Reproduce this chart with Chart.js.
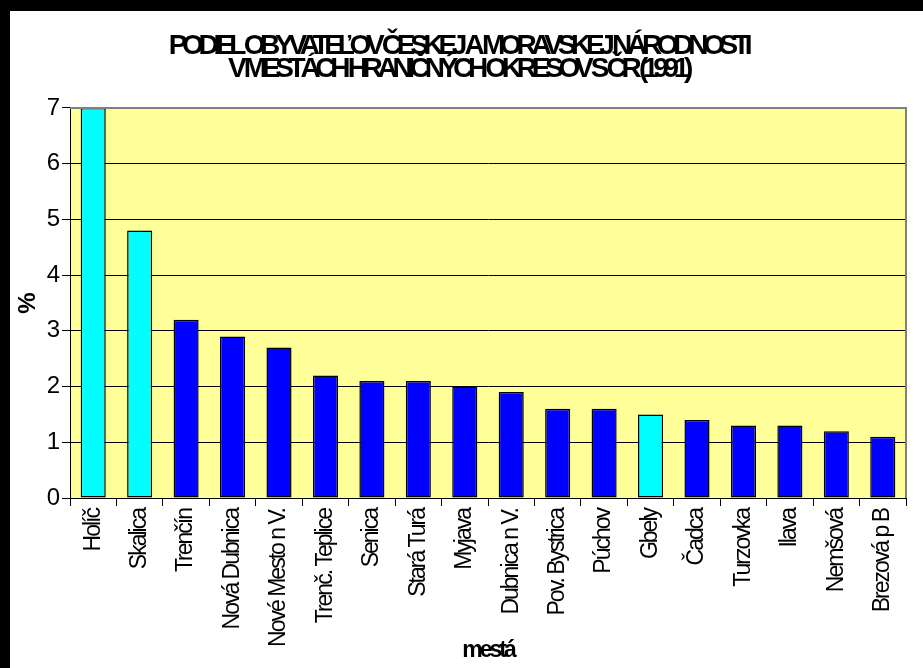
<!DOCTYPE html>
<html><head><meta charset="utf-8">
<script src="https://cdn.jsdelivr.net/npm/chart.js@4/dist/chart.umd.min.js"></script>
<style>
html,body{margin:0;padding:0;background:#000;width:923px;height:668px;overflow:hidden}
#wrap{position:absolute;left:10px;top:11px;width:913px;height:657px;background:#fff}
canvas{display:block}
</style></head><body>
<div id="wrap"><canvas id="c" width="913" height="657"></canvas></div>
<script>
const titleLines = ['PODIEL OBYVATEĽOV ČESKEJ A MORAVSKEJ NÁRODNOSTI', 'V MESTÁCH HRANIČNÝCH OKRESOV S ČR (1991)'];
const cities = ['Holíč','Skalica','Trenčín','Nová Dubnica','Nové Mesto n V.','Trenč. Teplice','Senica','Stará Turá','Myjava','Dubnica n V.','Pov. Bystrica','Púchov','Gbely','Čadca','Turzovka','Ilava','Nemšová','Brezová p B'];
const shares = [7.0, 4.8, 3.2, 2.9, 2.7, 2.2, 2.1, 2.1, 2.0, 1.9, 1.6, 1.6, 1.5, 1.4, 1.3, 1.3, 1.2, 1.1];
const czBorderTowns = ['Holíč','Skalica','Gbely'];
const yTicks = [0,1,2,3,4,5,6,7];
const xTitle = 'mestá';
const yTitle = '%';

const SANS = '"Liberation Sans", Arial, sans-serif';

// condensed look: per-font letter spacing
const canvas = document.getElementById('c');
const ctx0 = canvas.getContext('2d');
const spacingFor = f => {
  if (/(^| )28px/.test(f)) return '-5.3px';
  if (/(^| )23px/.test(f) && /bold/.test(f)) return '-3px';
  if (/(^| )23px/.test(f)) return '-2px';
  return '0px';
};
const origFill = ctx0.fillText.bind(ctx0);
const origMeasure = ctx0.measureText.bind(ctx0);
ctx0.fillText = function(t, x, y, m){ ctx0.letterSpacing = spacingFor(ctx0.font); return m === undefined ? origFill(t, x, y) : origFill(t, x, y, m); };
ctx0.measureText = function(t){ ctx0.letterSpacing = spacingFor(ctx0.font); return origMeasure(t); };

const frame = {
  id: 'frame',
  beforeDraw(chart){
    const {ctx, chartArea:a} = chart;
    ctx.save();
    ctx.fillStyle = '#FFFF99';
    ctx.fillRect(a.left, a.top, a.right-a.left, a.bottom-a.top);
    ctx.restore();
  },
  afterDatasetsDraw(chart){
    const {ctx, chartArea:a} = chart;
    ctx.save();
    ctx.strokeStyle = '#808080';
    ctx.lineWidth = 2;
    ctx.beginPath();
    ctx.moveTo(a.left, a.top); ctx.lineTo(a.right, a.top); ctx.lineTo(a.right, a.bottom);
    ctx.stroke();
    ctx.restore();
  }
};

new Chart(canvas, {
  type: 'bar',
  data: {
    labels: cities,
    datasets: [{
      data: shares,
      backgroundColor: cities.map(c => czBorderTowns.includes(c) ? '#00FFFF' : '#0000FF'),
      borderColor: '#000',
      borderWidth: 1.5,
      borderSkipped: false,
      barPercentage: 0.54,
      categoryPercentage: 1.0
    }]
  },
  options: {
    responsive: false,
    animation: false,
    devicePixelRatio: 1,
    layout: { padding: { left: 0, right: 17, top: 0, bottom: 0 } },
    plugins: {
      legend: { display: false },
      tooltip: { enabled: false },
      title: {
        display: true,
        text: titleLines,
        color: '#000',
        font: { family: SANS, size: 28, weight: 'bold', lineHeight: 0.82 },
        padding: { top: 24, bottom: 27 }
      }
    },
    scales: {
      x: {
        grid: { display: true, drawOnChartArea: false, drawTicks: true, tickLength: 8, color: '#000', offset: true },
        border: { display: true, color: '#000', width: 1 },
        ticks: { color: '#000', font: { family: SANS, size: 23 }, minRotation: 90, maxRotation: 90, autoSkip: false, padding: 3 },
        title: { display: true, text: xTitle, color: '#000', font: { family: SANS, size: 23, weight: 'bold' }, padding: { top: 0, bottom: 4 } },
        afterFit(s){ s.height = 170; }
      },
      y: {
        min: 0, max: 7,
        afterBuildTicks(s){ s.ticks = yTicks.map(v => ({value: v})); },
        grid: { color: '#000', lineWidth: 1, tickLength: 8 },
        border: { display: true, color: '#000', width: 1 },
        ticks: { color: '#000', font: { family: SANS, size: 24 }, padding: 2 },
        title: { display: true, text: yTitle, color: '#000', font: { family: SANS, size: 24, weight: 'bold' }, padding: { top: 4, bottom: 0 } },
        afterFit(s){ s.width = 60; }
      }
    }
  },
  plugins: [frame]
});
</script>
</body></html>
